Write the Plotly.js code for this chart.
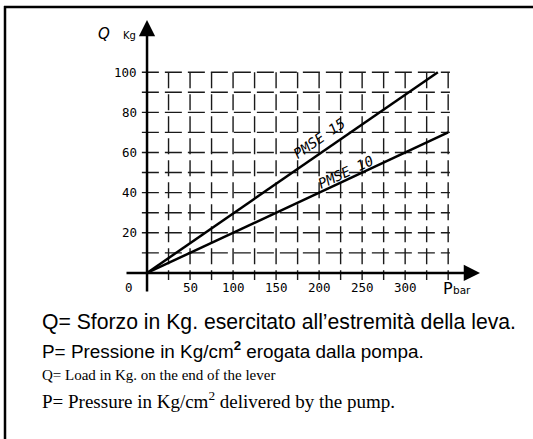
<!DOCTYPE html>
<html>
<head>
<meta charset="utf-8">
<script src="https://cdn.plot.ly/plotly-3.0.1.min.js"></script>
<style>html,body{margin:0;padding:0;background:#fff}#chart{width:533px;height:439px}</style>
</head>
<body>
<div id="chart"></div>
<script>
// Data
const pmse15P = [0, 338];
const pmse15Q = [0, 100];
const pmse10P = [0, 350];
const pmse10Q = [0, 70];
const xTickVals = [50, 100, 150, 200, 250, 300];
const yTickVals = [20, 40, 60, 80, 100];
const gridXVals = [25, 50, 75, 100, 125, 150, 175, 200, 225, 250, 275, 300, 325, 350];
const gridYVals = [10, 20, 30, 40, 50, 60, 70, 80, 90, 100];
const captions = [
  "Q= Sforzo in Kg. esercitato all\u2019estremit\u00e0 della leva.",
  "P= Pressione in Kg/cm<sup><b>2</b></sup> erogata dalla pompa.",
  "Q= Load in Kg. on the end of the lever",
  "P= Pressure in Kg/cm<sup>2</sup> delivered by the pump."
];

// plot-area geometry (pixels)
const L = 125, R = 53, T = 20, B = 146, W = 533, H = 439;
const PW = W - L - R, PH = H - T - B;
const px = v => (v - L) / PW;
const py = v => (H - B - v) / PH;

// grid built from tick values
const gvx = [], gvy = [], ghx = [], ghy = [];
gridXVals.forEach(v => { gvx.push(v, v, null); gvy.push(100, -3.5, null); });
gridYVals.forEach(v => { ghx.push(-6, 352, null); ghy.push(v, v, null); });

const traces = [
  {x: gvx, y: gvy, mode: 'lines', line: {color: '#1a1a1a', width: 1.4, dash: '16px,6px'}, hoverinfo: 'skip'},
  {x: ghx, y: ghy, mode: 'lines', line: {color: '#1a1a1a', width: 1.4, dash: '17px,6px'}, hoverinfo: 'skip'},
  {x: pmse15P, y: pmse15Q, mode: 'lines', line: {color: '#000', width: 2.5}},
  {x: pmse10P, y: pmse10Q, mode: 'lines', line: {color: '#000', width: 2.5}}
];

const mono = {family: 'DejaVu Sans Mono', size: 12.5, color: '#000'};
const ann = [];
// axes with arrows
ann.push({x: 387, y: 0, ax: -25.6, ay: 0, axref: 'x', ayref: 'y', xref: 'x', yref: 'y', text: '', showarrow: true,
  arrowhead: 2, arrowsize: 1.3, arrowwidth: 2.5, arrowcolor: '#000', standoff: 0});
ann.push({x: 0, y: 126, ax: 0, ay: -10, axref: 'x', ayref: 'y', xref: 'x', yref: 'y', text: '', showarrow: true,
  arrowhead: 2, arrowsize: 1.3, arrowwidth: 2.5, arrowcolor: '#000', standoff: 0});
// tick labels
xTickVals.forEach(v => ann.push({x: v, y: 0, xref: 'x', yref: 'y', yshift: -15, text: String(v), showarrow: false, font: mono}));
yTickVals.forEach(v => ann.push({x: 0, y: v, xref: 'x', yref: 'y', xanchor: 'right', xshift: -8, text: String(v), showarrow: false, font: mono}));
ann.push({x: 0, y: 0, xref: 'x', yref: 'y', xanchor: 'right', xshift: -12, yshift: -15, text: '0', showarrow: false, font: mono});
// axis titles
ann.push({x: 0, y: 119, xref: 'x', yref: 'y', xanchor: 'right', xshift: -35, text: '<i>Q</i>', showarrow: false,
  font: {family: 'DejaVu Sans', size: 15, color: '#000'}});
ann.push({x: 0, y: 118.5, xref: 'x', yref: 'y', xanchor: 'right', xshift: -9, text: 'Kg', showarrow: false,
  font: {family: 'DejaVu Sans', size: 10, color: '#000'}});
ann.push({x: 342, y: 0, xref: 'x', yref: 'y', xanchor: 'left', yshift: -16, text: 'P', showarrow: false,
  font: {family: 'DejaVu Sans', size: 16, color: '#000'}});
ann.push({x: 353, y: 0, xref: 'x', yref: 'y', xanchor: 'left', yshift: -17, text: 'bar', showarrow: false,
  font: {family: 'DejaVu Sans', size: 10.5, color: '#000'}});
// line labels
ann.push({x: 201, y: 67, xref: 'x', yref: 'y', text: '<i>PMSE 15</i>', showarrow: false, textangle: -34.5,
  font: {family: 'DejaVu Sans Mono', size: 14, color: '#000'}});
ann.push({x: 231, y: 50.5, xref: 'x', yref: 'y', text: '<i>PMSE 10</i>', showarrow: false, textangle: -25,
  font: {family: 'DejaVu Sans Mono', size: 14, color: '#000'}});
// captions
const capY = [322, 350, 375, 400];
const capFonts = [
  {family: 'Liberation Sans', size: 21.2, color: '#000'},
  {family: 'Liberation Sans', size: 18.9, color: '#000'},
  {family: 'Liberation Serif', size: 15, color: '#000'},
  {family: 'Liberation Serif', size: 19, color: '#000'}
];
captions.forEach((t, i) => ann.push({x: px(40), y: py(capY[i]), xref: 'paper', yref: 'paper', xanchor: 'left', yanchor: 'middle',
  text: t, showarrow: false, font: capFonts[i]}));

const layout = {
  width: W, height: H,
  margin: {l: L, r: R, t: T, b: B, pad: 0},
  paper_bgcolor: '#fff', plot_bgcolor: '#fff',
  showlegend: false,
  xaxis: {range: [-25.6, 387], visible: false, fixedrange: true},
  yaxis: {range: [-10, 126], visible: false, fixedrange: true},
  annotations: ann,
  shapes: [
    {type: 'line', xref: 'paper', yref: 'paper', x0: px(4), x1: px(533), y0: py(7), y1: py(7), line: {color: '#000', width: 2.5}},
    {type: 'line', xref: 'paper', yref: 'paper', x0: px(5), x1: px(5), y0: py(6), y1: py(439), line: {color: '#000', width: 2.5}}
  ]
};
Plotly.newPlot('chart', traces, layout, {displayModeBar: false, staticPlot: true});
</script>
</body>
</html>
